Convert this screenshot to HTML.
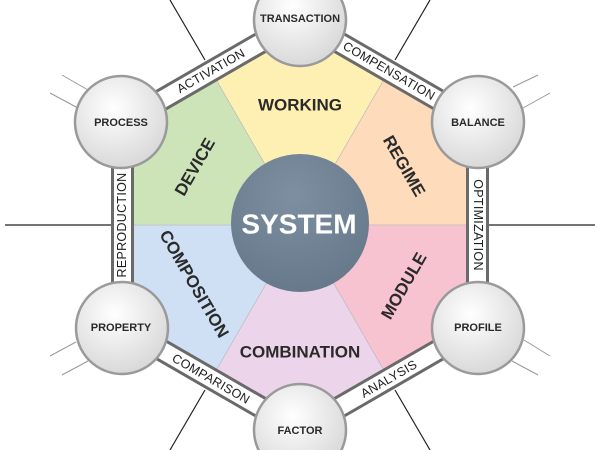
<!DOCTYPE html>
<html><head><meta charset="utf-8"><style>
html,body{margin:0;padding:0;background:#fff;width:600px;height:450px;overflow:hidden;}
svg{display:block;overflow:hidden;}
text{font-family:"Liberation Sans",sans-serif;}
</style></head><body>
<svg width="600" height="450" viewBox="0 0 600 450" overflow="hidden" xmlns="http://www.w3.org/2000/svg">
<defs>
<radialGradient id="cg" cx="0.42" cy="0.35" r="0.7">
<stop offset="0" stop-color="#ffffff"/><stop offset="1" stop-color="#d6d6d6"/>
</radialGradient>
<radialGradient id="sg" cx="0.45" cy="0.3" r="0.75">
<stop offset="0" stop-color="#7d8fa0"/><stop offset="1" stop-color="#65788a"/>
</radialGradient>
</defs>
<g stroke="#222" stroke-width="1.2">
<line x1="5" y1="225" x2="112" y2="225"/>
<line x1="488" y1="225" x2="595" y2="225"/>
<line x1="205" y1="60" x2="170" y2="0"/>
<line x1="395" y1="60" x2="430" y2="0"/>
<line x1="205" y1="390" x2="170" y2="450"/>
<line x1="395" y1="390" x2="430" y2="450"/>
</g>
<g stroke="#999" stroke-width="1">
<line x1="62" y1="75" x2="88" y2="90"/><line x1="50" y1="93" x2="78" y2="108"/>
<line x1="513" y1="87" x2="538" y2="75"/><line x1="523" y1="108" x2="550" y2="93"/>
<line x1="50" y1="356" x2="76" y2="342"/><line x1="62" y1="375" x2="88" y2="361"/>
<line x1="524" y1="340" x2="550" y2="356"/><line x1="512" y1="361" x2="538" y2="375"/>
</g>
<g stroke="#b8b8b8" stroke-width="0.6">
<polygon points="300,225 211.25,71.25 300,20 388.75,71.25" fill="#fdf0b2"/>
<polygon points="300,225 388.75,71.25 477.5,122.5 477.5,225" fill="#fddbbb"/>
<polygon points="300,225 477.5,225 477.5,327.5 388.75,378.75" fill="#f8c3d1"/>
<polygon points="300,225 388.75,378.75 300,430 211.25,378.75" fill="#ecd5ea"/>
<polygon points="300,225 211.25,378.75 122.5,327.5 122.5,225" fill="#cfe0f4"/>
<polygon points="300,225 122.5,225 122.5,122.5 211.25,71.25" fill="#cde3b8"/>
</g>
<polygon points="300,20 477.5,122.5 477.5,327.5 300,430 122.5,327.5 122.5,122.5" fill="none" stroke="#6a6a6a" stroke-width="23" stroke-linejoin="miter"/>
<polygon points="300,20 477.5,122.5 477.5,327.5 300,430 122.5,327.5 122.5,122.5" fill="none" stroke="#fff" stroke-width="17" stroke-linejoin="miter"/>
<g font-size="12.5" fill="#1e1e1e" text-anchor="middle" dominant-baseline="central" letter-spacing="0.3">
<text transform="translate(211,71) rotate(-30)">ACTIVATION</text>
<text transform="translate(389,71) rotate(30)">COMPENSATION</text>
<text transform="translate(478,225) rotate(90)">OPTIMIZATION</text>
<text transform="translate(389,379) rotate(-30)">ANALYSIS</text>
<text transform="translate(211,379) rotate(30)">COMPARISON</text>
<text transform="translate(122,225) rotate(-90)">REPRODUCTION</text>
</g>
<g font-size="17" font-weight="bold" fill="#2a2a2a" text-anchor="middle" dominant-baseline="central">
<text x="300" y="105">WORKING</text>
<text transform="translate(404,166) rotate(60)">REGIME</text>
<text transform="translate(404,286) rotate(-60)">MODULE</text>
<text x="300" y="352">COMBINATION</text>
<text transform="translate(194,284) rotate(60)">COMPOSITION</text>
<text transform="translate(195,167) rotate(-60)">DEVICE</text>
</g>
<circle cx="300" cy="223" r="69" fill="url(#sg)"/>
<text x="299" y="224" font-size="28" font-weight="bold" fill="#fff" text-anchor="middle" dominant-baseline="central">SYSTEM</text>
<g stroke="#9a9a9a" stroke-width="2.5" fill="url(#cg)">
<circle cx="300" cy="20" r="46"/>
<circle cx="478" cy="122" r="46"/>
<circle cx="478" cy="328" r="46"/>
<circle cx="300" cy="430" r="46"/>
<circle cx="122" cy="328" r="46"/>
<circle cx="121" cy="122" r="46"/>
</g>
<g font-size="11" font-weight="bold" fill="#2a2a2a" text-anchor="middle" dominant-baseline="central">
<text x="300" y="19">TRANSACTION</text>
<text x="478" y="123">BALANCE</text>
<text x="478" y="328">PROFILE</text>
<text x="300" y="431">FACTOR</text>
<text x="121" y="328">PROPERTY</text>
<text x="121" y="123">PROCESS</text>
</g>
</svg>
</body></html>
